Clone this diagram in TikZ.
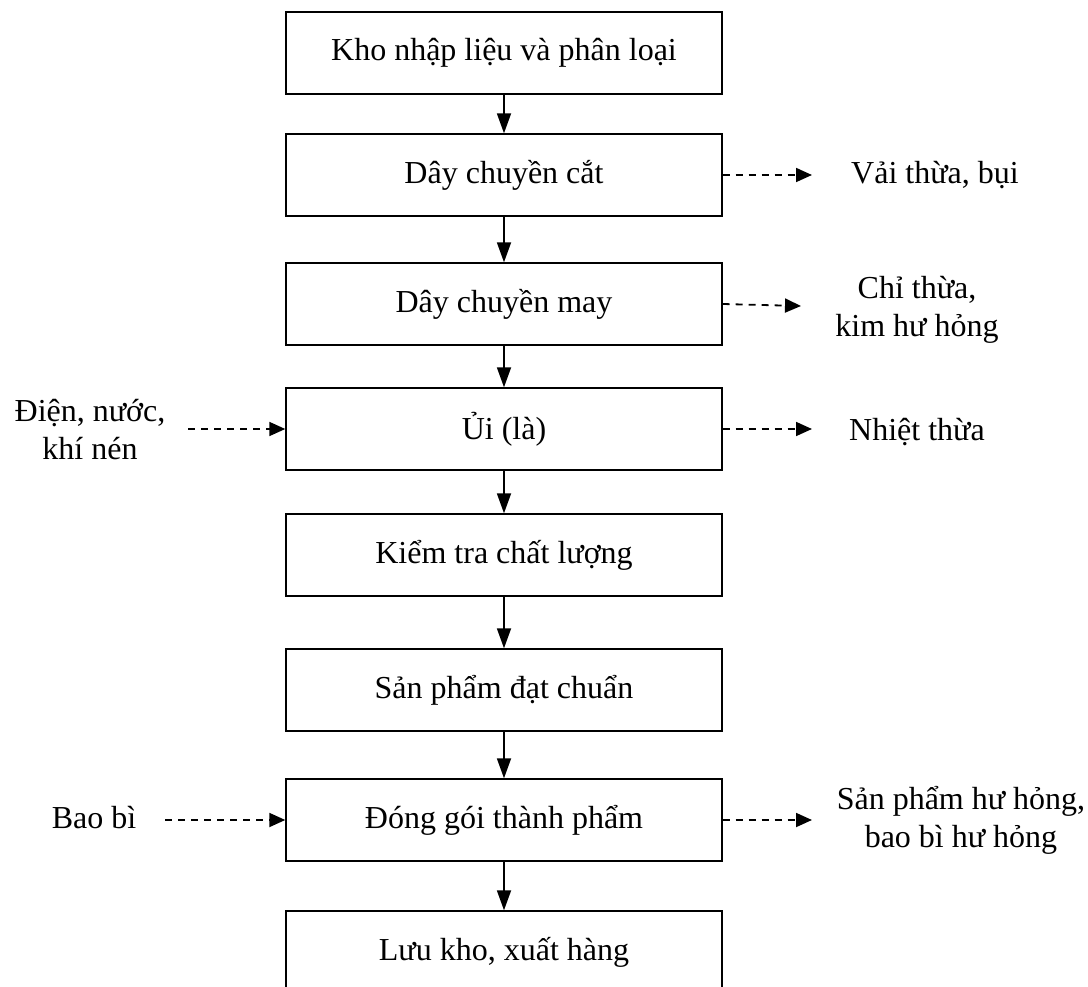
\documentclass[tikz,border=0pt]{standalone}
\usepackage{fontspec}
\setmainfont{Liberation Serif}
\usetikzlibrary{arrows.meta}
\begin{document}
\begin{tikzpicture}[x=1pt,y=-1pt,
  stage/.style={draw, line width=1.4pt, minimum width=436pt, minimum height=82pt,
    inner sep=0pt, font=\fontsize{32}{38}\selectfont},
  note/.style={align=center, inner sep=0pt, font=\fontsize{32}{38}\selectfont},
  flow/.style={line width=1.8pt, -{Triangle[length=20pt,width=14pt]}},
  side/.style={line width=1.8pt, dash pattern=on 7pt off 6pt, -{Triangle[length=16pt,width=14pt]}}]
\useasboundingbox (0,0) rectangle (1088,987);
\clip (0,0) rectangle (1088,987);
% main process chain
\node[stage] (s1) at (504,53)  {Kho nhập liệu và phân loại};
\node[stage] (s2) at (504,175) {Dây chuyền cắt};
\node[stage] (s3) at (504,304) {Dây chuyền may};
\node[stage] (s4) at (504,429) {Ủi (là)};
\node[stage] (s5) at (504,555) {Kiểm tra chất lượng};
\node[stage] (s6) at (504,690) {Sản phẩm đạt chuẩn};
\node[stage] (s7) at (504,820) {Đóng gói thành phẩm};
\node[stage] (s8) at (504,952) {Lưu kho, xuất hàng};
\foreach \a/\b in {s1/s2,s2/s3,s3/s4,s4/s5,s5/s6,s6/s7,s7/s8}
  \draw[flow] (\a) -- (\b);
% inputs
\node[note] (in1) at (90,430) {Điện, nước,\\khí nén};
\node[note] (in2) at (94,818) {Bao bì};
\coordinate (in1e) at (188,429);
\coordinate (in2e) at (165,820);
\draw[side] (in1e) -- (s4.west);
\draw[side] (in2e) -- (s7.west);
% outputs
\node[note] (out1) at (935,175) {Vải thừa, bụi};
\node[note] (out2) at (917,310) {Chỉ thừa,\\kim hư hỏng};
\node[note] (out3) at (917,432) {Nhiệt thừa};
\node[note] (out4) at (961,820) {Sản phẩm hư hỏng,\\bao bì hư hỏng};
\coordinate (o1) at (812,175);
\coordinate (o2) at (801,306);
\coordinate (o3) at (812,429);
\coordinate (o4) at (812,820);
\draw[side] (s2.east) -- (o1);
\draw[side] (s3.east) -- (o2);
\draw[side] (s4.east) -- (o3);
\draw[side] (s7.east) -- (o4);
\end{tikzpicture}
\end{document}
